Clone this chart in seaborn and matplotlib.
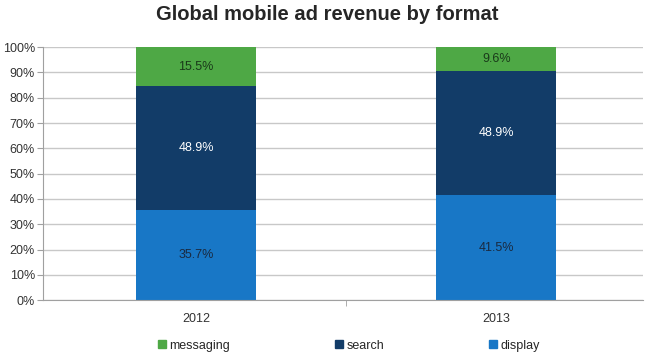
import seaborn as sns
import matplotlib.pyplot as plt
import pandas as pd
from matplotlib.ticker import PercentFormatter
from matplotlib.patches import Patch

years = ['2012', '2013']
display = [35.7, 41.5]
search = [48.9, 48.9]
messaging = [15.5, 9.6]

green = '#4ea845'
navy = '#123c68'
blue = '#1877c6'

df = pd.DataFrame({'year': years, 'display': display, 'search': search, 'messaging': messaging})
df['ds'] = df['display'] + df['search']
df['total'] = df['ds'] + df['messaging']

sns.set_style('white')
plt.rcParams['font.family'] = ['Liberation Sans', 'DejaVu Sans']

fig, ax = plt.subplots(figsize=(6.55, 3.54), dpi=100)
fig.subplots_adjust(left=0.066, right=0.982, top=0.867, bottom=0.152)

# stacked by overlaying cumulative totals
for col, c in [('total', green), ('ds', navy), ('display', blue)]:
    sns.barplot(x='year', y=col, data=df, color=c, width=0.4, ax=ax, saturation=1,
                linewidth=0, zorder=2)

for i in range(len(years)):
    ax.text(i, display[i] / 2, f'{display[i]}%', ha='center', va='center', fontsize=9, color='#1a2a40')
    ax.text(i, display[i] + search[i] / 2, f'{search[i]}%', ha='center', va='center', fontsize=9, color='white')
    top = min(display[i] + search[i] + messaging[i], 100)
    ax.text(i, (display[i] + search[i] + top) / 2, f'{messaging[i]}%', ha='center', va='center', fontsize=9, color='#1a3a1a')

ax.set_ylim(0, 100)
ax.set_xlim(-0.51, 1.49)
ax.set_yticks(range(0, 101, 10))
ax.yaxis.set_major_formatter(PercentFormatter(decimals=0))
ax.grid(axis='y', color='#c8c8c8', linewidth=1, zorder=0)
ax.set_axisbelow(True)
ax.set_xlabel('')
ax.set_ylabel('')
for s in ['top', 'right']:
    ax.spines[s].set_visible(False)
ax.spines['left'].set_color('#a0a0a0')
ax.spines['bottom'].set_color('#a0a0a0')
ax.tick_params(axis='y', left=True, length=4, color='#a0a0a0', labelsize=9, labelcolor='#333333', pad=2)
ax.tick_params(axis='x', bottom=False, labelsize=9, labelcolor='#333333', pad=6)
ax.set_xticks([0, 1], minor=False)
ax.set_xticks([0.5], minor=True)
ax.tick_params(axis='x', which='minor', bottom=True, length=4, color='#a0a0a0')

fig.suptitle('Global mobile ad revenue by format', fontsize=14.5, fontweight='bold', x=0.5, y=0.985)

handles = [Patch(color=green, label='messaging'), Patch(color=navy, label='search'), Patch(color=blue, label='display')]
fig.legend(handles=handles, loc='lower center', ncol=3, frameon=False, fontsize=9,
           bbox_to_anchor=(0.533, -0.025), columnspacing=8.4, handlelength=0.6, handleheight=0.6, handletextpad=0.3)

fig.savefig('out.png', dpi=100)
